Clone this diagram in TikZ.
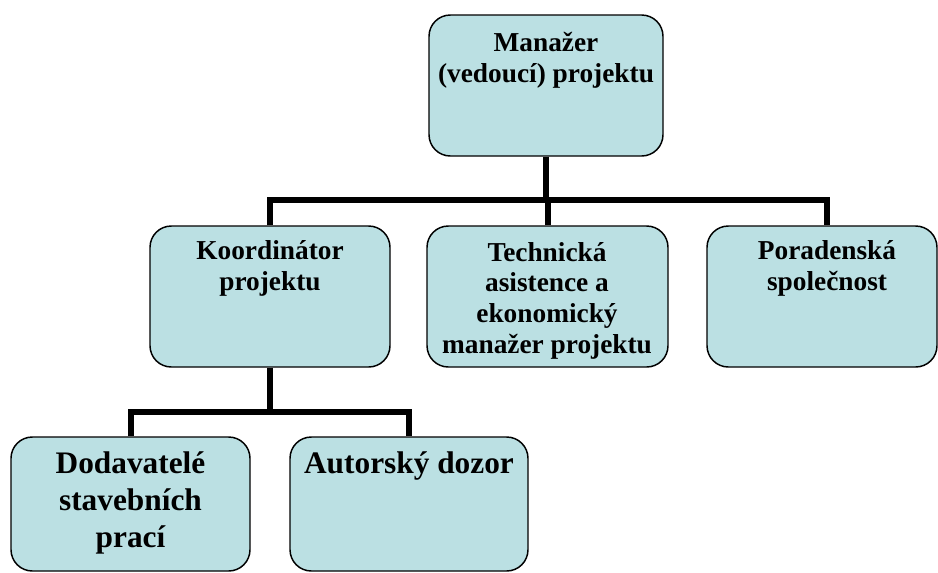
\documentclass[tikz,border=0pt]{standalone}
\usepackage{fontspec}
\setmainfont{Liberation Serif}
\usepackage{tikz}
\usetikzlibrary{calc}
\definecolor{unitfill}{RGB}{187,224,227}
\tikzset{
  unit/.style n args={2}{draw=black, line width=1.1pt, rounded corners=16pt, fill=unitfill,
    minimum width=#1, minimum height=#2, inner sep=0pt},
  link/.style={line width=4.5pt, black},
  caption/.style={anchor=base, align=center, inner sep=0pt,
    font=\bfseries\fontsize{20.5pt}{23pt}\selectfont},
  bigcaption/.style={caption, font=\bfseries\fontsize{23.5pt}{27.75pt}\selectfont}
}

\begin{document}
\begin{tikzpicture}[x=0.75pt, y=-0.75pt]
\useasboundingbox (0,0) rectangle (938,572);
% boxes
\node[unit={175.5pt}{105.75pt}] (1) at (546,85.5) {};
\node[unit={180pt}{105.75pt}] (2) at (270,296.5) {};
\node[unit={180.75pt}{105.75pt}] (3) at (547.5,296.5) {};
\node[unit={172.5pt}{105.75pt}] (4) at (822,296.5) {};
\node[unit={179.25pt}{100.5pt}] (5) at (130.5,504) {};
\node[unit={178.5pt}{100.5pt}] (6) at (409,504) {};
% connectors
\coordinate (a) at (547,200);
\coordinate (b) at (270,412);
\draw[link] (1.south) -- (1.south |- a);
\draw[link] (2.north) |- (a) -| ([xshift=3.75pt]4.north);
\draw[link] (3.north) -- (3.north |- a);
\draw[link] (2.south) -- (b);
\draw[link] (5.north) |- (b) -| (6.north);
% texts (base = last line)
\node[caption] (1t) at (546,82) {Manažer\\(vedoucí) projektu};
\node[caption] (2t) at (270,290) {Koordinátor\\projektu};
\node[caption] (3t) at (547,353) {Technická\\asistence a\\ekonomický\\manažer projektu};
\node[caption] (4t) at (827,290) {Poradenská\\společnost};
\node[bigcaption] (5t) at (130.5,547) {Dodavatelé\\stavebních\\prací};
\node[bigcaption] (6t) at (409,473) {Autorský dozor};
\end{tikzpicture}
\end{document}
